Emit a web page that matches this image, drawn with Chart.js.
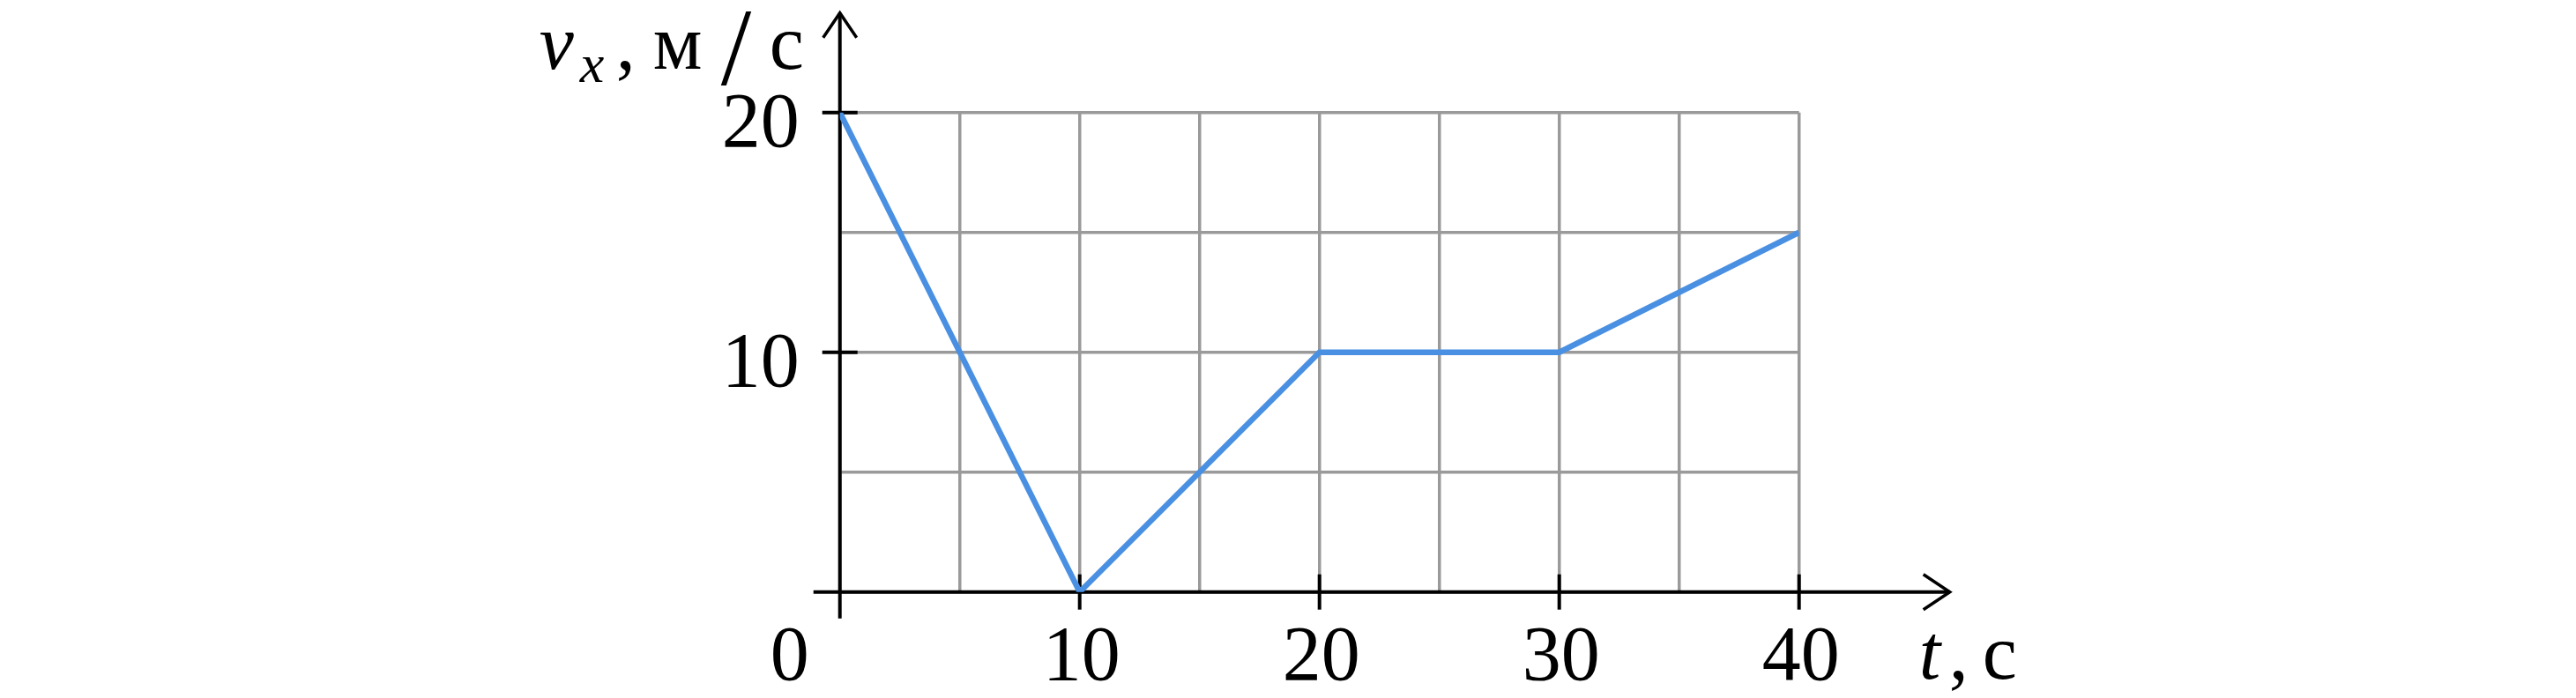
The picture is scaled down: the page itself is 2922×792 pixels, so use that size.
<!DOCTYPE html>
<html>
<head>
<meta charset="utf-8">
<script src="https://cdn.jsdelivr.net/npm/chart.js@4/dist/chart.umd.min.js"></script>
<style>
  html, body { margin: 0; padding: 0; background: #ffffff; }
  canvas { display: block; }
</style>
</head>
<body>
<canvas id="c" width="2922" height="792"></canvas>
<script>
// ---- data ----
const tValues = [0, 10, 20, 30, 40];
const vValues = [20, 0, 10, 10, 15];
const xTickValues = [10, 20, 30, 40];
const xTickLabels = ['10', '20', '30', '40'];
const yTickValues = [10, 20];
const yTickLabels = ['10', '20'];
const originLabel = '0';
const xTitleVar = 't';
const xTitleUnit = 'с';
const yTitleVar = 'v';
const yTitleSub = 'x';
const yTitleUnit1 = 'м';
const yTitleUnit2 = 'с';

const points = tValues.map((t, i) => ({ x: t, y: vValues[i] }));

const SERIF = "'Liberation Serif', 'DejaVu Serif', serif";

const axesPlugin = {
  id: 'axesPlugin',
  beforeDatasetsDraw(chart) {
    const ctx = chart.ctx;
    const xs = chart.scales.x, ys = chart.scales.y;
    const ax = xs.getPixelForValue(0);
    const ay = ys.getPixelForValue(0);
    const xEnd = xs.getPixelForValue(40) + 171;
    const yTop = ys.getPixelForValue(20) - 113;
    ctx.save();
    ctx.strokeStyle = '#000';
    ctx.lineWidth = 4;
    ctx.lineCap = 'butt';
    // x axis
    ctx.beginPath();
    ctx.moveTo(ax - 30, ay);
    ctx.lineTo(xEnd, ay);
    ctx.stroke();
    // y axis
    ctx.beginPath();
    ctx.moveTo(ax, ay + 30);
    ctx.lineTo(ax, yTop);
    ctx.stroke();
    // arrows
    ctx.lineWidth = 3.5;
    ctx.beginPath();
    ctx.moveTo(xEnd - 30, ay - 20);
    ctx.lineTo(xEnd, ay);
    ctx.lineTo(xEnd - 30, ay + 20);
    ctx.stroke();
    ctx.beginPath();
    ctx.moveTo(ax - 19, yTop + 28);
    ctx.lineTo(ax, yTop);
    ctx.lineTo(ax + 19, yTop + 28);
    ctx.stroke();
    // ticks
    ctx.lineWidth = 4;
    xTickValues.forEach(v => {
      const px = xs.getPixelForValue(v);
      ctx.beginPath();
      ctx.moveTo(px, ay - 20);
      ctx.lineTo(px, ay + 20);
      ctx.stroke();
    });
    yTickValues.forEach(v => {
      const py = ys.getPixelForValue(v);
      ctx.beginPath();
      ctx.moveTo(ax - 20, py);
      ctx.lineTo(ax + 20, py);
      ctx.stroke();
    });
    ctx.restore();
  },
  afterDraw(chart) {
    const ctx = chart.ctx;
    const xs = chart.scales.x, ys = chart.scales.y;
    const ax = xs.getPixelForValue(0);
    const ay = ys.getPixelForValue(0);
    ctx.save();
    ctx.fillStyle = '#000';
    ctx.textBaseline = 'alphabetic';
    ctx.font = '88px ' + SERIF;
    // x tick labels
    ctx.textAlign = 'center';
    xTickValues.forEach((v, i) => {
      ctx.fillText(xTickLabels[i], xs.getPixelForValue(v) + 2, ay + 99);
    });
    // origin label
    ctx.fillText(originLabel, ax - 57, ay + 99);
    // y tick labels
    ctx.textAlign = 'right';
    yTickValues.forEach((v, i) => {
      ctx.fillText(yTickLabels[i], ax - 46, ys.getPixelForValue(v) + 38);
    });
    // y title
    ctx.textAlign = 'left';
    const ty = ys.getPixelForValue(20) - 50;
    ctx.font = 'italic 88px ' + SERIF;
    ctx.fillText(yTitleVar, ax - 341, ty);
    ctx.font = 'italic 62px ' + SERIF;
    ctx.fillText(yTitleSub, ax - 295, ty + 15);
    ctx.font = '88px ' + SERIF;
    ctx.fillText(',', ax - 254, ty);
    ctx.fillText(yTitleUnit1, ax - 212, ty);
    ctx.font = '124px ' + SERIF;
    ctx.fillText('/', ax - 135, ty + 18);
    ctx.font = '88px ' + SERIF;
    ctx.fillText(yTitleUnit2, ax - 80, ty);
    // x title
    const tx = xs.getPixelForValue(40);
    ctx.font = 'italic 88px ' + SERIF;
    ctx.fillText(xTitleVar, tx + 136, ay + 98);
    ctx.font = '88px ' + SERIF;
    ctx.fillText(',', tx + 170, ay + 98);
    ctx.fillText(xTitleUnit, tx + 208, ay + 98);
    ctx.restore();
  }
};

new Chart(document.getElementById('c'), {
  type: 'line',
  data: {
    datasets: [{
      data: points,
      borderColor: '#4a90e2',
      borderWidth: 6.5,
      pointRadius: 0,
      fill: false,
      tension: 0,
      borderCapStyle: 'butt',
      borderJoinStyle: 'miter'
    }]
  },
  options: {
    responsive: false,
    animation: false,
    devicePixelRatio: 1,
    layout: {
      autoPadding: false,
      padding: { left: 952.7, right: 881.3, top: 127.7, bottom: 120.3 }
    },
    plugins: { legend: { display: false }, tooltip: { enabled: false } },
    scales: {
      x: {
        type: 'linear',
        min: 0, max: 40,
        ticks: { display: false, stepSize: 5 },
        grid: { color: '#9a9a9a', lineWidth: 3.5, drawTicks: false },
        border: { display: false }
      },
      y: {
        type: 'linear',
        min: 0, max: 20,
        ticks: { display: false, stepSize: 5 },
        grid: { color: '#9a9a9a', lineWidth: 3.5, drawTicks: false },
        border: { display: false }
      }
    }
  },
  plugins: [axesPlugin]
});
</script>
</body>
</html>
